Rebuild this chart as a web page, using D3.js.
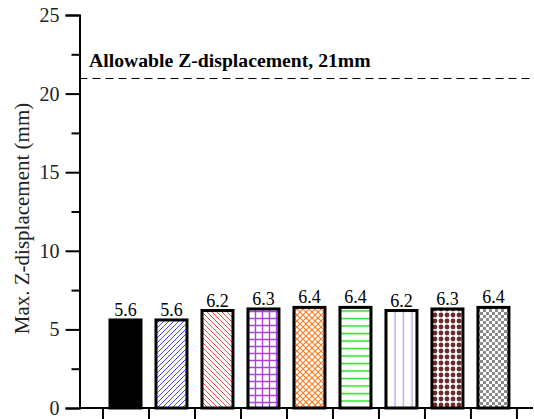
<!DOCTYPE html>
<html>
<head>
<meta charset="utf-8">
<script src="https://cdn.jsdelivr.net/npm/d3@7"></script>
<style>
  html, body { margin: 0; padding: 0; background: #fff; }
  svg { display: block; }
</style>
</head>
<body>
<svg id="chart" width="534" height="419"></svg>
<script>
// Maximum Z-displacement per case (mm)
const cases = [1, 2, 3, 4, 5, 6, 7, 8, 9];
const values = [5.6, 5.6, 6.2, 6.3, 6.4, 6.4, 6.2, 6.3, 6.4];
const valueLabels = ["5.6", "5.6", "6.2", "6.3", "6.4", "6.4", "6.2", "6.3", "6.4"];
const fills = ["solid", "diagUp", "diagDown", "grid", "diagCross", "horiz", "vert", "dots", "checker"];
const yTicks = [0, 5, 10, 15, 20, 25];
const yMinorTicks = [2.5, 7.5, 12.5, 17.5, 22.5];
const xTicks = [0.5, 1.5, 2.5, 3.5, 4.5, 5.5, 6.5, 7.5, 8.5, 9.5];
const limitValue = 21;
const limitLabel = "Allowable Z-displacement, 21mm";
const yTitle = "Max. Z-displacement (mm)";

const FONT = "'Liberation Serif', 'Times New Roman', Times, serif";

const svg = d3.select("#chart");
const x = d3.scaleLinear().domain([0, 9.86]).range([79.5, 533]);
const y = d3.scaleLinear().domain([0, 25]).range([408, 15]);
const barW = 31;

// Hatch patterns
const defs = svg.append("defs");
function pat(id, w, h) {
  return defs.append("pattern").attr("id", id).attr("patternUnits", "userSpaceOnUse")
    .attr("width", w).attr("height", h);
}
let p;
p = pat("diagUp", 5, 5);
p.append("path").attr("d", "M-1,1 L1,-1 M0,5 L5,0 M4,6 L6,4").attr("stroke", "#4a4af0").attr("stroke-width", 1);
p = pat("diagDown", 5, 5);
p.append("path").attr("d", "M-1,4 L1,6 M0,0 L5,5 M4,-1 L6,1").attr("stroke", "#f05050").attr("stroke-width", 1);
p = pat("grid", 7, 7);
p.append("path").attr("d", "M3.5,0 V7 M0,3.5 H7").attr("stroke", "#a020d0").attr("stroke-width", 1.4).attr("opacity", 0.85);
p = pat("diagCross", 6, 6);
p.append("path").attr("d", "M0,0 L6,6 M6,0 L0,6").attr("stroke", "#ff7a1a").attr("stroke-width", 1.1);
p = pat("horiz", 8, 7.5);
p.append("path").attr("d", "M0,3.5 H8").attr("stroke", "#22e022").attr("stroke-width", 1.5);
p = pat("vert", 8.5, 8);
p.append("path").attr("d", "M4,0 V8").attr("stroke", "#a0a0f0").attr("stroke-width", 1.2);
p = pat("dots", 6, 6);
p.append("circle").attr("cx", 3).attr("cy", 3).attr("r", 2.4).attr("fill", "#6a2c2c");
p = pat("checker", 6, 6);
p.append("rect").attr("x", 0).attr("y", 0).attr("width", 3).attr("height", 3).attr("fill", "#8a8a8a");
p.append("rect").attr("x", 3).attr("y", 3).attr("width", 3).attr("height", 3).attr("fill", "#8a8a8a");

// Bars
svg.append("g").selectAll("rect").data(values).join("rect")
  .attr("x", (d, i) => x(cases[i]) - barW / 2)
  .attr("y", d => y(d))
  .attr("width", barW)
  .attr("height", d => y(0) - y(d))
  .attr("fill", (d, i) => fills[i] === "solid" ? "#000" : `url(#${fills[i]})`)
  .attr("stroke", "#000")
  .attr("stroke-width", 3);

// Value labels
svg.append("g").selectAll("text").data(values).join("text")
  .attr("x", (d, i) => x(cases[i]))
  .attr("y", d => y(d) - 4)
  .attr("text-anchor", "middle")
  .style("font-family", FONT)
  .style("font-size", "18px")
  .text((d, i) => valueLabels[i]);

// Allowable limit line
const yl = Math.round(y(limitValue)) + 0.5;
svg.append("line")
  .attr("x1", x(0)).attr("x2", 534)
  .attr("y1", yl).attr("y2", yl)
  .attr("stroke", "#000").attr("stroke-width", 1)
  .attr("stroke-dasharray", "8,5");
svg.append("text")
  .attr("x", 89).attr("y", 67)
  .style("font-family", FONT)
  .style("font-size", "19.7px").style("font-weight", "bold")
  .text(limitLabel);

// Y axis
const yAxis = svg.append("g").attr("transform", `translate(${x(0)},0)`)
  .call(d3.axisLeft(y).tickValues(yTicks).tickSize(14).tickPadding(6).tickFormat(d3.format("d")));
svg.append("g").attr("transform", `translate(${x(0)},0)`)
  .call(d3.axisLeft(y).tickValues(yMinorTicks).tickSize(8).tickFormat(""))
  .call(g => g.select(".domain").remove());
yAxis.selectAll("text").style("font-family", FONT).style("font-size", "20px").attr("fill", "#222");

// X axis
const xAxis = svg.append("g").attr("transform", `translate(0,${y(0)})`)
  .call(d3.axisBottom(x).tickValues(xTicks).tickSize(11).tickFormat(""));
xAxis.select(".domain").attr("d", `M${x(0)},0 H${x.range()[1]}`);

svg.selectAll(".domain, .tick line").attr("stroke", "#000").attr("stroke-width", 2);

// Y axis title
svg.append("text")
  .attr("transform", `translate(29,${(y(0) + y(25)) / 2 + 7}) rotate(-90)`)
  .attr("text-anchor", "middle")
  .attr("fill", "#222")
  .style("font-family", FONT)
  .style("font-size", "21px")
  .text(yTitle);
</script>
</body>
</html>
